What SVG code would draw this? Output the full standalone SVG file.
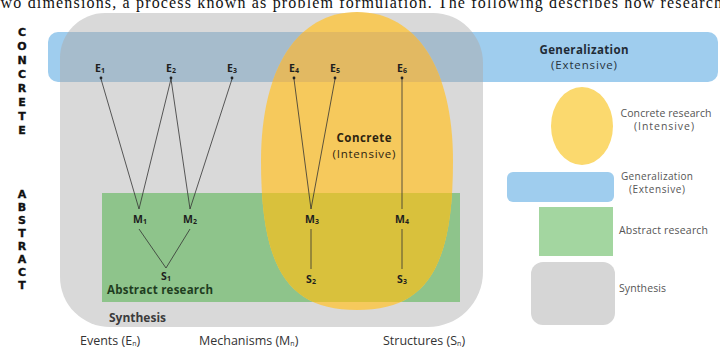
<svg xmlns="http://www.w3.org/2000/svg" width="720" height="349" viewBox="0 0 720 349">
<style>
.lbl{font-family:"Open Sans","Liberation Sans",sans-serif;font-weight:bold;font-size:10.5px;fill:#1e1e1e;text-anchor:middle}
.sub{font-size:7px}
.vert{font-family:"DejaVu Sans","Open Sans",sans-serif;font-weight:bold;font-size:11px;fill:#111;stroke:#111;stroke-width:0.35;text-anchor:middle}
.main{font-family:"Open Sans","Liberation Sans",sans-serif;font-size:12px;fill:#26323c;text-anchor:middle}
.leg{font-family:"Open Sans","Liberation Sans",sans-serif;font-size:10.5px;fill:#555}
.axis{font-family:"Open Sans","Liberation Sans",sans-serif;font-size:12.5px;fill:#333}
.conn line{stroke:#333;stroke-width:0.8}
</style>
<defs>
<path id="grayShape" d="M105,13 H433 A50,50 0 0 1 483,63 V272 A55,55 0 0 1 428,327 H110 A50,50 0 0 1 60,277 V58 A45,45 0 0 1 105,13 Z"/>
<path id="yellowShape" d="M357,12 C416.5,12 453,68.6 453,161 C453,268.3 426.1,310 357,310 C287.9,310 261,268.3 261,161 C261,68.6 297.5,12 357,12 Z"/>
<clipPath id="clipGray"><use href="#grayShape"/></clipPath>
<clipPath id="clipBlue"><rect x="48" y="32" width="670" height="50" rx="10"/></clipPath>
<clipPath id="clipGreen"><rect x="102" y="193" width="358" height="109"/></clipPath>
</defs>

<text x="-5" y="8" font-family="Liberation Serif,serif" font-size="16" fill="#111" textLength="727" lengthAdjust="spacing">two dimensions, a process known as problem formulation. The following describes how research</text>

<g id="synthesis">
<use href="#grayShape" fill="#d9d9d9"/>
<text x="109" y="322" class="main" style="text-anchor:start;font-weight:bold;fill:#3c3c3c" textLength="57">Synthesis</text>
</g>
<g id="generalization">
<rect x="48" y="32" width="670" height="50" rx="10" fill="#9fcdee"/>
<rect x="48" y="32" width="670" height="50" fill="#a6bccc" clip-path="url(#clipGray)"/>
<text x="584" y="54" class="main" style="font-weight:bold;fill:#1f2b36;font-size:11.5px" textLength="89">Generalization</text>
<text x="584" y="69" class="main" style="font-size:11.5px" textLength="66">(Extensive)</text>
</g>
<g id="abstract-research">
<rect x="102" y="193" width="358" height="109" fill="#8ec48b"/>
<text x="107" y="294" class="main" style="text-anchor:start;font-weight:bold;fill:#1f3d1f;font-size:11.5px" textLength="106">Abstract research</text>
</g>
<g id="concrete-research">
<use href="#yellowShape" fill="#f6c95c"/>
<use href="#yellowShape" fill="#e2b962" clip-path="url(#clipBlue)"/>
<use href="#yellowShape" fill="#d9c13c" clip-path="url(#clipGreen)"/>
<text x="364" y="142" class="main" style="font-weight:bold;fill:#2e2410;font-size:11.5px" textLength="55">Concrete</text>
<text x="364" y="158" class="main" style="fill:#2e2410;font-size:11.5px" textLength="63">(Intensive)</text>
</g>

<g id="connectors" class="conn">
<line x1="101" y1="79" x2="139" y2="209"/>
<line x1="171" y1="79" x2="139" y2="209"/>
<line x1="171" y1="79" x2="190" y2="209"/>
<line x1="232" y1="79" x2="190" y2="209"/>
<line x1="294" y1="79" x2="311" y2="209"/>
<line x1="335" y1="79" x2="311" y2="209"/>
<line x1="402" y1="79" x2="402" y2="209"/>
<line x1="139" y1="229" x2="166" y2="268"/>
<line x1="190" y1="229" x2="166" y2="268"/>
<line x1="311" y1="229" x2="311" y2="269"/>
<line x1="402" y1="229" x2="402" y2="269"/>
<g fill="#222">
<circle cx="101" cy="78" r="1.4"/><circle cx="171" cy="78" r="1.4"/><circle cx="232" cy="78" r="1.4"/>
<circle cx="294" cy="78" r="1.4"/><circle cx="335" cy="78" r="1.4"/><circle cx="402" cy="78" r="1.4"/>
</g>
</g>

<g id="E1"><text x="100" y="72" class="lbl">E<tspan class="sub" dy="1">1</tspan></text></g>
<g id="E2"><text x="171" y="72" class="lbl">E<tspan class="sub" dy="1">2</tspan></text></g>
<g id="E3"><text x="232" y="72" class="lbl">E<tspan class="sub" dy="1">3</tspan></text></g>
<g id="E4"><text x="294" y="72" class="lbl">E<tspan class="sub" dy="1">4</tspan></text></g>
<g id="E5"><text x="335" y="72" class="lbl">E<tspan class="sub" dy="1">5</tspan></text></g>
<g id="E6"><text x="402" y="72" class="lbl">E<tspan class="sub" dy="1">6</tspan></text></g>
<g id="M1"><text x="140" y="223" class="lbl">M<tspan class="sub" dy="1">1</tspan></text></g>
<g id="M2"><text x="190" y="223" class="lbl">M<tspan class="sub" dy="1">2</tspan></text></g>
<g id="M3"><text x="312" y="223" class="lbl">M<tspan class="sub" dy="1">3</tspan></text></g>
<g id="M4"><text x="402" y="223" class="lbl">M<tspan class="sub" dy="1">4</tspan></text></g>
<g id="S1"><text x="166" y="280" class="lbl">S<tspan class="sub" dy="1">1</tspan></text></g>
<g id="S2"><text x="311" y="283" class="lbl">S<tspan class="sub" dy="1">2</tspan></text></g>
<g id="S3"><text x="402" y="283" class="lbl">S<tspan class="sub" dy="1">3</tspan></text></g>

<g id="axis-concrete">
<text class="vert"><tspan x="22" y="36">C</tspan><tspan x="22" y="50">O</tspan><tspan x="22" y="64">N</tspan><tspan x="22" y="78">C</tspan><tspan x="22" y="92">R</tspan><tspan x="22" y="106">E</tspan><tspan x="22" y="120">T</tspan><tspan x="22" y="134">E</tspan></text>
</g>
<g id="axis-abstract">
<text class="vert"><tspan x="22" y="198">A</tspan><tspan x="22" y="211">B</tspan><tspan x="22" y="224">S</tspan><tspan x="22" y="237">T</tspan><tspan x="22" y="250">R</tspan><tspan x="22" y="263">A</tspan><tspan x="22" y="276">C</tspan><tspan x="22" y="289">T</tspan></text>
</g>

<g id="axis-bottom">
<text x="80" y="345" class="axis">Events (E<tspan class="sub" dy="0.5">n</tspan><tspan dy="-0.5">)</tspan></text>
<text x="199" y="345" class="axis">Mechanisms (M<tspan class="sub" dy="0.5">n</tspan><tspan dy="-0.5">)</tspan></text>
<text x="383" y="345" class="axis">Structures (S<tspan class="sub" dy="0.5">n</tspan><tspan dy="-0.5">)</tspan></text>
</g>

<g id="legend-concrete">
<ellipse cx="582" cy="126" rx="31" ry="39" fill="#fbd96e"/>
<text x="666" y="117" class="leg" text-anchor="middle" textLength="91">Concrete research</text>
<text x="664" y="130" class="leg" text-anchor="middle" textLength="60">(Intensive)</text>
</g>
<g id="legend-generalization">
<rect x="507" y="172" width="107" height="30" rx="6" fill="#9fcdee"/>
<text x="657" y="180" class="leg" text-anchor="middle" style="font-size:10px" textLength="72">Generalization</text>
<text x="657" y="193" class="leg" text-anchor="middle" style="font-size:10px" textLength="56">(Extensive)</text>
</g>
<g id="legend-abstract">
<rect x="539" y="207" width="74" height="49" fill="#a3d6a0"/>
<text x="619" y="234" class="leg" textLength="89">Abstract research</text>
</g>
<g id="legend-synthesis">
<rect x="531" y="262" width="84" height="63" rx="12" fill="#d6d6d6"/>
<text x="619" y="292" class="leg" textLength="47">Synthesis</text>
</g>
</svg>
